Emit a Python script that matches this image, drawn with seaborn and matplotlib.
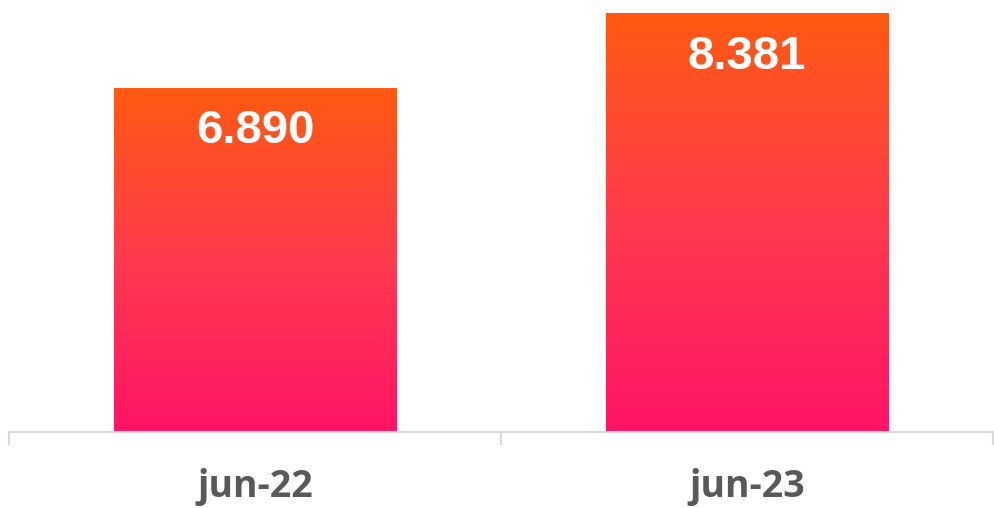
import numpy as np
import pandas as pd
import matplotlib
matplotlib.use("Agg")
import matplotlib.pyplot as plt
from matplotlib.colors import LinearSegmentedColormap
import seaborn as sns

categories = ["jun-22", "jun-23"]
values = [6890, 8381]
value_labels = ["6.890", "8.381"]

df = pd.DataFrame({"cat": categories, "val": values})

sns.set_theme(style="white")
plt.rcParams['font.family'] = ['Liberation Sans', 'DejaVu Sans']

fig = plt.figure(figsize=(9.94, 5.08), dpi=100)
ax = fig.add_axes([9/994, 76/508, 984/994, 432/508])

sns.barplot(data=df, x="cat", y="val", ax=ax, width=0.575, color="#FF3A50", saturation=1)

cmap = LinearSegmentedColormap.from_list("g", ["#FF1466", "#FF3A4E", "#FF5A12"])
grad = np.linspace(0, 1, 256).reshape(-1, 1)
for p, lab in zip(ax.patches, value_labels):
    x0, w, h = p.get_x(), p.get_width(), p.get_height()
    p.set_visible(False)
    ax.imshow(grad, cmap=cmap, extent=[x0, x0 + w, 0, h], origin="lower",
              aspect="auto", zorder=2, interpolation="bicubic")
    ax.text(x0 + w / 2, h - 860, lab, ha="center", va="center", color="white",
            fontsize=34, fontweight="bold", zorder=3)
ax.set_xlim(-0.5, 1.5)
ax.set_ylim(0, 8660)

for s in ["top", "right", "left"]:
    ax.spines[s].set_visible(False)
ax.spines["bottom"].set_color("#D9D9D9")
ax.spines["bottom"].set_linewidth(1.5)
ax.set_yticks([])
ax.set_xticks([-0.5, 0.5, 1.5], minor=False)
ax.set_xticklabels(["", "", ""])
ax.tick_params(axis="x", which="major", length=9, width=1.5, color="#D9D9D9", direction="out", bottom=True)
ax.set_xticks([0, 1], minor=True)
ax.set_xticklabels(categories, minor=True, fontsize=27, fontweight="bold", color="#595959",
                   family=["Open Sans", "DejaVu Sans"])
ax.tick_params(axis="x", which="minor", length=0, pad=26)
ax.set_xlabel("")
ax.set_ylabel("")
ax.patch.set_alpha(0)

fig.savefig("out.png", dpi=100)
